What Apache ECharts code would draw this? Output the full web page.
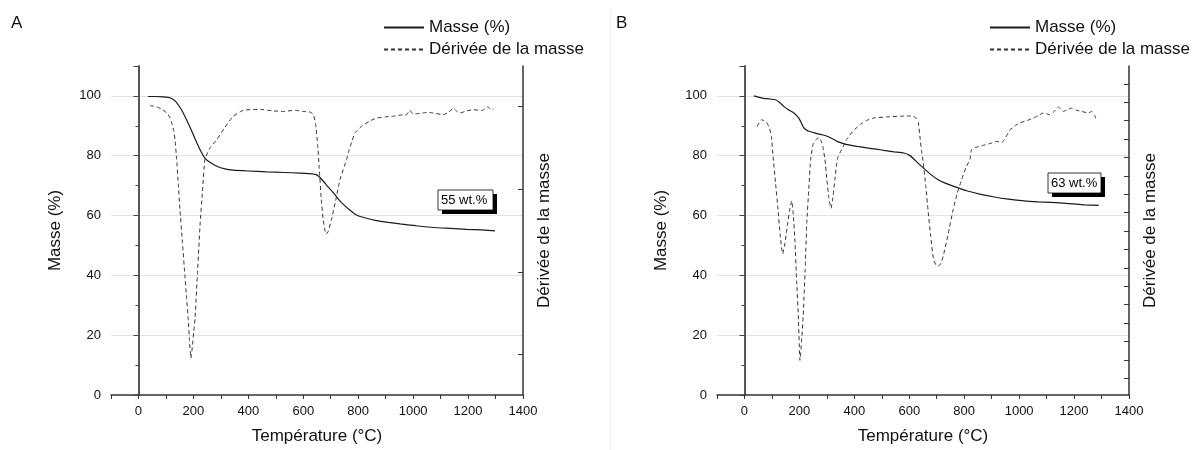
<!DOCTYPE html>
<html>
<head>
<meta charset="utf-8">
<script src="https://cdn.jsdelivr.net/npm/echarts@6/dist/echarts.min.js"></script>
<style>
  html, body { margin: 0; padding: 0; background: #fff; }
  #chart { width: 1192px; height: 450px; }
</style>
</head>
<body>
<div id="chart"></div>
<script>
// ATG : [température °C, valeur]
const masseA = [
  [35, 99.8], [60, 99.8], [90, 99.7], [115, 99.4], [135, 98.2], [155, 95.6], [175, 92], [195, 88],
  [212, 84.4], [228, 81.3], [242, 79.2], [260, 77.8], [285, 76.5], [315, 75.6], [345, 75.2], [400, 74.9],
  [467, 74.6], [530, 74.4], [588, 74.2], [620, 74.0], [649, 73.6], [670, 71.8], [690, 69.6], [709, 67.7],
  [727, 65.6], [745, 63.8], [770, 61.8], [794, 60.2], [830, 59.1], [867, 58.3], [910, 57.7], [952, 57.2],
  [1010, 56.6], [1073, 56.0], [1135, 55.7], [1195, 55.4], [1250, 55.2], [1298, 54.9]
];
const deriveeA = [
  [42, 96.7], [55, 96.6], [66, 96.3], [85, 95.6], [103, 94.3], [113, 93.0], [121, 91.0], [128, 88.5],
  [133, 85.4], [139, 78.8], [145, 70.5], [151, 62.1], [160, 51], [169, 40.0], [175, 32.5], [181, 25.6],
  [186, 18], [191, 12.3], [196, 16], [201, 21], [206, 25.6], [215, 41], [224, 56.6], [233, 68],
  [242, 78.8], [260, 82.5], [285, 85.4], [315, 89.5], [345, 93.2], [382, 95.2], [443, 95.5], [490, 95.0],
  [527, 94.8], [570, 95.2], [600, 94.8], [625, 94.6], [637, 93.7], [645, 90.5], [652, 84], [658, 76],
  [665, 66], [672, 59], [678, 55.5], [683, 53.8], [690, 54.5], [703, 58.8], [718, 65], [734, 72.1],
  [758, 78.8], [764, 81.0], [776, 84.5], [788, 87.6], [812, 89.8], [840, 91.5], [867, 92.6], [900, 93.0],
  [928, 93.2], [955, 93.6], [976, 93.7], [988, 95.2], [1000, 94.0], [1025, 94.1], [1050, 94.5], [1073, 94.3],
  [1110, 93.7], [1130, 94.6], [1146, 95.9], [1160, 94.8], [1171, 94.3], [1195, 95.0], [1219, 95.4], [1250, 95.1],
  [1273, 96.3], [1285, 95.2], [1292, 95.6]
];
const masseB = [
  [34, 100.0], [50, 99.6], [70, 99.2], [90, 99.0], [113, 98.7], [128, 97.8], [143, 96.5], [160, 95.4],
  [180, 94.3], [198, 92.6], [207, 91.0], [216, 89.3], [225, 88.6], [234, 88.2], [250, 87.8], [264, 87.4],
  [283, 87.0], [301, 86.5], [320, 85.7], [337, 84.8], [355, 84.2], [374, 83.7], [410, 83.1], [446, 82.6],
  [480, 82.2], [507, 81.8], [545, 81.3], [580, 80.9], [600, 80.2], [617, 78.9], [630, 77.7], [655, 75.6],
  [680, 73.6], [705, 72.0], [727, 71.0], [770, 69.5], [812, 68.2], [860, 67.1], [910, 66.2], [960, 65.5],
  [1019, 64.9], [1070, 64.6], [1116, 64.4], [1180, 64.0], [1237, 63.6], [1290, 63.4]
];
const deriveeB = [
  [46, 89.8], [55, 91.3], [62, 92.0], [70, 91.8], [80, 91.2], [90, 89.5], [98, 86.5], [104, 79.9],
  [113, 71], [122, 62.1], [130, 53.5], [139, 47.2], [147, 50.5], [156, 56.6], [164, 61.5], [172, 64.9],
  [178, 60], [184, 51.1], [190, 38], [196, 26.7], [202, 11.6], [208, 18], [214, 26.7], [221, 42],
  [227, 57.7], [234, 68.5], [241, 78.8], [251, 84.3], [262, 85.5], [272, 86.0], [279, 85], [285, 83.2],
  [293, 78.8], [300, 72], [307, 66], [315, 62.4], [322, 66], [329, 72.1], [338, 78.8], [342, 79.9],
  [356, 82.5], [372, 85.4], [395, 88.2], [421, 90.4], [445, 91.8], [470, 92.6], [520, 93.0], [567, 93.2],
  [600, 93.3], [615, 93.2], [625, 92.5], [633, 91.0], [640, 85.4], [645, 81.5], [651, 77.7], [660, 70],
  [669, 61.1], [678, 53], [688, 45.5], [697, 43.5], [706, 43.1], [715, 44], [724, 46.6], [742, 54],
  [760, 62.1], [775, 67.5], [791, 72.1], [806, 76], [821, 78.8], [827, 82.1], [850, 83.0], [870, 83.5],
  [895, 84.1], [918, 84.8], [937, 84.4], [950, 86], [967, 88.7], [985, 90], [1003, 91.0], [1030, 91.8],
  [1052, 92.6], [1070, 93.4], [1088, 94.3], [1112, 93.7], [1128, 94.8], [1143, 96.3], [1161, 94.8], [1175, 95.4],
  [1191, 95.9], [1210, 95.2], [1228, 94.8], [1252, 94.3], [1264, 94.8], [1275, 93.5], [1282, 91.5]
];
const tempTicks = [0, 200, 400, 600, 800, 1000, 1200, 1400];
const masseTicks = [0, 20, 40, 60, 80, 100];
const rightTicksA = [13.6, 41.2, 68.8, 96.4];
const rightTicksB = [5.6, 11.75, 17.9, 24.05, 30.2, 36.35, 42.5, 48.65, 54.8, 60.95, 67.1, 73.25, 79.4, 85.55, 91.7, 97.85, 104.0];

const FONT = 'Liberation Sans, Arial, sans-serif';
const chart = echarts.init(document.getElementById('chart'));

function xAxisFor(gi) {
  return {
    type: 'value', gridIndex: gi, min: -100, max: 1400, interval: 100,
    name: 'Température (°C)', nameLocation: 'middle', nameGap: 33,
    nameTextStyle: { fontSize: 17, color: '#111', fontFamily: FONT },
    axisLine: { show: true, onZero: false, lineStyle: { color: '#333', width: 1.5 } },
    axisTick: { show: true, inside: false, length: 4, lineStyle: { color: '#333' } },
    axisLabel: {
      margin: 10, fontSize: 13, color: '#111', fontFamily: FONT,
      formatter: function (v) { return tempTicks.indexOf(v) >= 0 ? String(v) : ''; }
    },
    splitLine: { show: false }
  };
}
function leftYFor(gi) {
  return {
    type: 'value', gridIndex: gi, position: 'left', min: 0, max: 110, interval: 20,
    name: 'Masse (%)', nameLocation: 'middle', nameGap: 47, nameRotate: 90,
    nameTextStyle: { fontSize: 17, color: '#111', fontFamily: FONT },
    axisLine: { show: true, lineStyle: { color: '#444', width: 1.8 } },
    axisTick: { show: true, inside: false, length: 5, lineStyle: { color: '#444' } },
    minorTick: { show: true, splitNumber: 2, length: 3, lineStyle: { color: '#444' } },
    axisLabel: {
      margin: 10, fontSize: 13, color: '#111', fontFamily: FONT, showMaxLabel: false,
      formatter: function (v) { return masseTicks.indexOf(v) >= 0 ? String(v) : ''; }
    },
    splitLine: { show: true, showMinLine: false, showMaxLine: false, lineStyle: { color: '#e2e2e2', width: 1 } }
  };
}
function rightYFor(gi, ticks) {
  return {
    type: 'value', gridIndex: gi, position: 'right', min: 0, max: 110,
    name: 'Dérivée de la masse', nameLocation: 'middle', nameGap: 13, nameRotate: 90,
    nameTextStyle: { fontSize: 17, color: '#111', fontFamily: FONT },
    axisLine: { show: true, lineStyle: { color: '#333', width: 1.5 } },
    axisTick: { show: true, inside: true, length: 5, customValues: ticks, lineStyle: { color: '#333' } },
    axisLabel: { show: false },
    splitLine: { show: false }
  };
}
function masseSeries(name, data, xi, yi) {
  return {
    name: name, type: 'line', xAxisIndex: xi, yAxisIndex: yi, data: data,
    symbol: 'none', smooth: 0.15, z: 3,
    itemStyle: { color: '#1a1a1a' },
    lineStyle: { color: '#1a1a1a', width: 1.2, type: 'solid' }
  };
}
function deriveeSeries(name, data, xi, yi) {
  return {
    name: name, type: 'line', xAxisIndex: xi, yAxisIndex: yi, data: data,
    symbol: 'none', smooth: 0.15, z: 3,
    itemStyle: { color: '#333' },
    lineStyle: { color: '#333', width: 1, type: [4, 3] }
  };
}
function legendAt(left) {
  return {
    left: left, top: 19, padding: 0, orient: 'vertical', itemWidth: 40, itemHeight: 14, itemGap: 5,
    itemStyle: { opacity: 0 },
    textStyle: { fontSize: 17, color: '#111', fontFamily: FONT, padding: [0, 0, 0, 0] },
    data: ['Masse (%)', 'Dérivée de la masse']
  };
}
function boxLabel(x, y, w, h, text) {
  return [
    { type: 'rect', shape: { x: x + 4, y: y + 4, width: w, height: h }, style: { fill: '#000' }, z: 10 },
    { type: 'rect', shape: { x: x, y: y, width: w, height: h }, style: { fill: '#fff', stroke: '#000', lineWidth: 0.8 }, z: 11 },
    { type: 'text', x: x + 3, y: y + h / 2, style: { text: text, font: '13px ' + FONT, fill: '#000', verticalAlign: 'middle' }, z: 12 }
  ];
}

chart.setOption({
  animation: false,
  textStyle: { fontFamily: FONT },
  grid: [
    { left: 111, top: 66, width: 412, height: 331 },
    { left: 717, top: 66, width: 412, height: 331 }
  ],
  legend: [legendAt(383), legendAt(989)],
  xAxis: [xAxisFor(0), xAxisFor(1)],
  yAxis: [leftYFor(0), rightYFor(0, rightTicksA), leftYFor(1), rightYFor(1, rightTicksB)],
  series: [
    masseSeries('Masse (%)', masseA, 0, 0),
    deriveeSeries('Dérivée de la masse', deriveeA, 0, 1),
    masseSeries('Masse (%)', masseB, 1, 2),
    deriveeSeries('Dérivée de la masse', deriveeB, 1, 3)
  ],
  graphic: [
    { type: 'line', shape: { x1: 610.5, y1: 10, x2: 610.5, y2: 450 }, style: { stroke: '#f0f0f0', lineWidth: 1 } },
    { type: 'text', x: 11, y: 15, style: { text: 'A', font: '17px ' + FONT, fill: '#111', verticalAlign: 'top' } },
    { type: 'text', x: 616, y: 15, style: { text: 'B', font: '17px ' + FONT, fill: '#111', verticalAlign: 'top' } }
  ].concat(boxLabel(438, 190, 55, 20, '55 wt.%'), boxLabel(1048, 173, 53, 20, '63 wt.%'))
});
</script>
</body>
</html>
